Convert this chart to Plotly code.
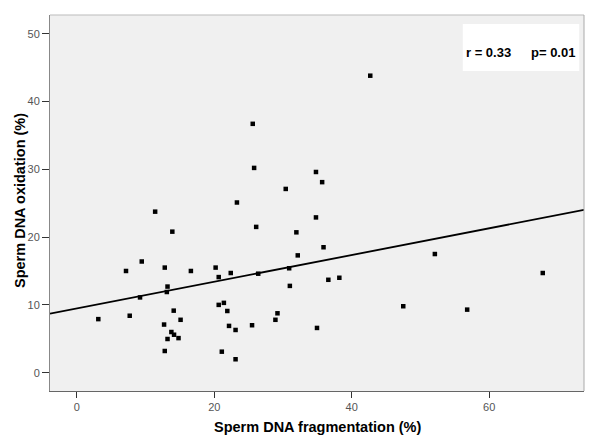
import plotly.graph_objects as go

# Data
fragmentation = [11.4, 13.9, 9.45, 7.16, 12.8, 16.6, 13.2, 13.1, 9.2, 14.1,
                 3.13, 7.7, 15.1, 12.7, 13.76, 14.15, 13.2, 14.8, 12.8,
                 23.3, 26.1, 34.8, 31.95, 35.9, 32.15, 20.2, 20.65, 22.4, 26.4,
                 30.9, 36.6, 38.2, 31.0, 20.65, 21.4, 21.9, 29.2, 28.9, 22.15,
                 23.1, 25.5, 34.95, 21.1, 23.1,
                 52.1, 67.8, 47.5, 56.8,
                 42.7, 25.6, 25.8, 34.8, 35.7, 30.4]
oxidation = [23.75, 20.8, 16.4, 15.0, 15.5, 15.0, 12.7, 11.9, 11.1, 9.15,
             7.9, 8.4, 7.8, 7.1, 6.0, 5.6, 4.97, 5.1, 3.2,
             25.1, 21.5, 22.9, 20.7, 18.5, 17.3, 15.5, 14.1, 14.7, 14.6,
             15.4, 13.7, 14.0, 12.8, 10.0, 10.3, 9.1, 8.76, 7.8, 6.9,
             6.3, 7.0, 6.6, 3.1, 1.98,
             17.5, 14.7, 9.8, 9.3,
             43.8, 36.7, 30.2, 29.6, 28.1, 27.1]

fit_intercept = 9.47
fit_slope = 0.197

x_range = [-3.9, 73.8]
y_range = [-2.7, 52.75]
x_ticks = [0, 20, 40, 60]
y_ticks = [0, 10, 20, 30, 40, 50]

fit_x = x_range
fit_y = [fit_intercept + fit_slope * v for v in fit_x]

fig = go.Figure()
fig.add_trace(go.Scatter(x=fit_x, y=fit_y, mode="lines",
                         line=dict(color="black", width=1.8),
                         hoverinfo="skip", showlegend=False))
fig.add_trace(go.Scatter(x=fragmentation, y=oxidation, mode="markers",
                         marker=dict(symbol="square", size=4.5, color="black",
                                     line=dict(width=0)),
                         showlegend=False))

font_family = "Arial, Liberation Sans, sans-serif"

fig.update_layout(
    width=600, height=441,
    margin=dict(l=50, r=16, t=15, b=50),
    paper_bgcolor="white",
    plot_bgcolor="#f0f0f0",
    font=dict(family=font_family, size=11, color="#444444"),
    xaxis=dict(range=x_range, tickvals=x_ticks, showgrid=False, zeroline=False,
               showline=True, linecolor="#666666", linewidth=1,
               ticks="outside", ticklen=6, tickcolor="#333333", tickwidth=1,
               tickfont=dict(size=11, color="#555555")),
    yaxis=dict(range=y_range, tickvals=y_ticks, showgrid=False, zeroline=False,
               showline=True, linecolor="#888888", linewidth=1,
               ticks="outside", ticklen=7, tickcolor="#333333", tickwidth=1,
               tickfont=dict(size=11, color="#555555")),
    shapes=[
        dict(type="line", xref="paper", yref="paper", x0=0, x1=1, y0=1, y1=1,
             line=dict(color="#bbbbbb", width=1)),
        dict(type="line", xref="paper", yref="paper", x0=1, x1=1, y0=0, y1=1,
             line=dict(color="#aaaaaa", width=1)),
        dict(type="rect", xref="paper", yref="paper", x0=0.773, x1=0.991,
             y0=0.851, y1=0.976, fillcolor="white", line=dict(width=0),
             layer="below"),
    ],
    annotations=[
        dict(text="<b>Sperm DNA fragmentation (%)</b>", xref="paper", yref="paper",
             x=0.5, y=0, xanchor="center", yanchor="middle", yshift=-36,
             showarrow=False, font=dict(size=14.5, color="black", family=font_family)),
        dict(text="<b>Sperm DNA oxidation (%)</b>", xref="paper", yref="paper",
             x=0, y=0.5, xanchor="center", yanchor="middle", xshift=-30, yshift=2,
             textangle=-90, showarrow=False,
             font=dict(size=14.5, color="black", family=font_family)),
        dict(text="<b>r = 0.33</b>", xref="paper", yref="paper",
             x=(464 - 50) / 534, y=(391 - 52) / 376, xanchor="left", yanchor="middle",
             showarrow=False, font=dict(size=13, color="black", family=font_family)),
        dict(text="<b>p= 0.01</b>", xref="paper", yref="paper",
             x=(577 - 50) / 534, y=(391 - 52) / 376, xanchor="right", yanchor="middle",
             showarrow=False, font=dict(size=13, color="black", family=font_family)),
    ],
)

fig.write_html("out.html", config={"displayModeBar": False},
               post_script="document.body.style.margin='0';document.body.style.overflow='hidden';")
